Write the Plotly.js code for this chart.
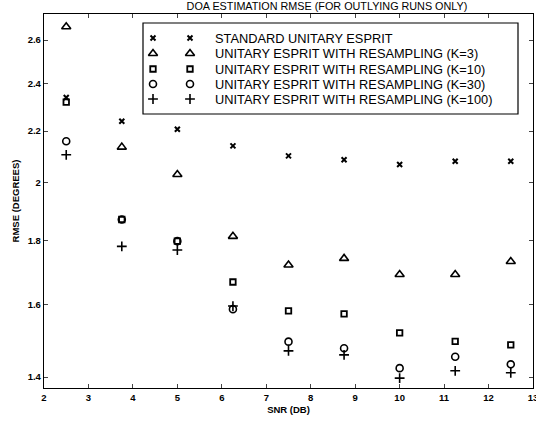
<!DOCTYPE html>
<html>
<head>
<meta charset="utf-8">
<script src="https://cdn.plot.ly/plotly-3.0.1.min.js"></script>
<style>html,body{margin:0;padding:0;background:#fff;}#chart{width:536px;height:421px;}</style>
</head>
<body>
<div id="chart"></div>
<script>
// ---- data ----
const snr = [2.5, 3.75, 5, 6.25, 7.5, 8.75, 10, 11.25, 12.5];
const standardEsprit = [2.34, 2.24, 2.207, 2.141, 2.102, 2.087, 2.069, 2.081, 2.081];
const resampK3 = [2.665, 2.136, 2.031, 1.813, 1.720, 1.741, 1.690, 1.690, 1.731];
const resampK10 = [2.32, 1.870, 1.797, 1.667, 1.581, 1.572, 1.518, 1.495, 1.485];
const resampK30 = [2.159, 1.870, 1.797, 1.586, 1.494, 1.476, 1.423, 1.453, 1.433];
const resampK100 = [2.106, 1.780, 1.768, 1.595, 1.469, 1.458, 1.397, 1.416, 1.411];
const seriesNames = [
  'STANDARD UNITARY ESPRIT',
  'UNITARY ESPRIT WITH RESAMPLING (K=3)',
  'UNITARY ESPRIT WITH RESAMPLING (K=10)',
  'UNITARY ESPRIT WITH RESAMPLING (K=30)',
  'UNITARY ESPRIT WITH RESAMPLING (K=100)'
];
const yTickVals = [1.4, 1.6, 1.8, 2, 2.2, 2.4, 2.6];
const yTickText = ['1.4', '1.6', '1.8', '2', '2.2', '2.4', '2.6'];
const xTickVals = [2, 3, 4, 5, 6, 7, 8, 9, 10, 11, 12, 13];

// ---- styles ----
const seriesData = [standardEsprit, resampK3, resampK10, resampK30, resampK100];
const symbols = ['x-thin-open', 'triangle-up-open', 'square-open', 'circle-open', 'cross-thin-open'];
const sizes = [5, 8, 5.5, 7, 7];
const widths = [2, 1.6, 1.8, 1.6, 1.6];

const traces = seriesData.map((ys, i) => ({
  x: snr, y: ys, type: 'scatter', mode: 'markers', name: seriesNames[i],
  showlegend: false,
  marker: {symbol: symbols[i], size: sizes[i], color: '#000', line: {color: '#000', width: widths[i]}},
  hoverinfo: 'skip'
}));

// manual MATLAB-style legend on a hidden pixel-coordinate overlay axis
const legRowY = [38, 53.5, 69, 84, 99];
const legMarkX = [153, 190];
const legTextX = 213;
seriesNames.forEach((nm, i) => {
  traces.push({
    x: legMarkX, y: [legRowY[i], legRowY[i]], xaxis: 'x2', yaxis: 'y2',
    type: 'scatter', mode: 'markers', showlegend: false, hoverinfo: 'skip',
    marker: {symbol: symbols[i], size: sizes[i], color: '#000', line: {color: '#000', width: widths[i]}}
  });
});

const annotations = seriesNames.map((nm, i) => ({
  xref: 'x2', yref: 'y2', x: legTextX, y: legRowY[i], text: nm,
  showarrow: false, xanchor: 'left', yanchor: 'middle',
  font: {family: 'Liberation Sans, Arial, sans-serif', size: 12.8, color: '#000'}
}));

const axisFont = {family: 'Liberation Sans, Arial, sans-serif', size: 9.5, color: '#000', weight: 'bold'};

const layout = {
  width: 536, height: 421,
  margin: {l: 44, r: 3, t: 14, b: 33},
  paper_bgcolor: '#fff', plot_bgcolor: '#fff',
  showlegend: false,
  title: {
    text: 'DOA ESTIMATION RMSE (FOR OUTLYING RUNS ONLY)',
    x: 0.61, xanchor: 'center', xref: 'container',
    y: 0.985, yanchor: 'middle', yref: 'container',
    font: {family: 'Liberation Sans, Arial, sans-serif', size: 10.8, color: '#000'}
  },
  xaxis: {
    range: [2, 13], tickvals: xTickVals, ticks: 'inside', ticklen: 4, tickwidth: 1,
    showline: true, linecolor: '#000', linewidth: 1.2, mirror: 'ticks',
    showgrid: false, zeroline: false, tickfont: axisFont, ticklabeloverflow: 'allow',
    title: {text: 'SNR (DB)', font: axisFont, standoff: 4}
  },
  yaxis: {
    type: 'log', range: [Math.log10(1.372), Math.log10(2.728)],
    tickvals: yTickVals, ticktext: yTickText, ticks: 'inside', ticklen: 4, tickwidth: 1,
    showline: true, linecolor: '#000', linewidth: 1.2, mirror: 'ticks',
    showgrid: false, zeroline: false, tickfont: axisFont,
    title: {text: 'RMSE (DEGREES)', font: axisFont, standoff: 6}
  },
  xaxis2: {overlaying: 'x', range: [44, 533], visible: false, fixedrange: true},
  yaxis2: {overlaying: 'y', range: [388, 14], visible: false, fixedrange: true},
  shapes: [{
    type: 'rect', xref: 'x2', yref: 'y2', x0: 143, x1: 518, y0: 23, y1: 114,
    line: {color: '#000', width: 1.2}, fillcolor: '#fff', layer: 'below'
  }],
  annotations: annotations
};

Plotly.newPlot('chart', traces, layout, {staticPlot: true, displayModeBar: false});
</script>
</body>
</html>
